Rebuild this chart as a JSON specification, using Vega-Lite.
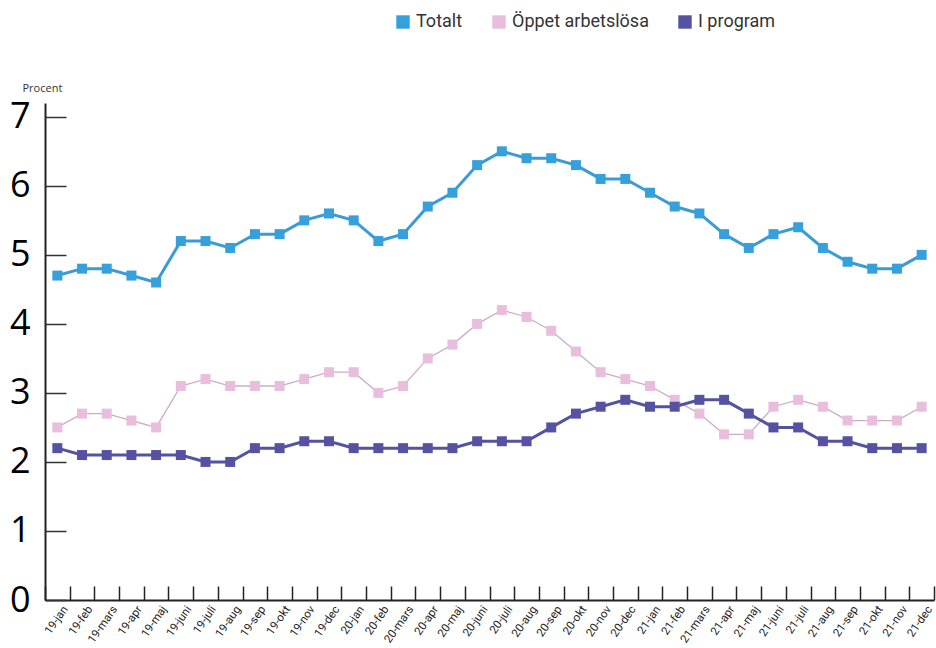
{
  "$schema": "https://vega.github.io/schema/vega-lite/v6.json",
  "width": 889,
  "height": 497,
  "autosize": {"type": "none"},
  "padding": {"left": 45, "top": 103, "right": 2, "bottom": 48},
  "config": {"view": {"stroke": null}, "font": "Open Sans"},
  "data": {"values": [
    {"m": "19-jan", "Totalt": 4.7, "Öppet arbetslösa": 2.5, "I program": 2.2},
    {"m": "19-feb", "Totalt": 4.8, "Öppet arbetslösa": 2.7, "I program": 2.1},
    {"m": "19-mars", "Totalt": 4.8, "Öppet arbetslösa": 2.7, "I program": 2.1},
    {"m": "19-apr", "Totalt": 4.7, "Öppet arbetslösa": 2.6, "I program": 2.1},
    {"m": "19-maj", "Totalt": 4.6, "Öppet arbetslösa": 2.5, "I program": 2.1},
    {"m": "19-juni", "Totalt": 5.2, "Öppet arbetslösa": 3.1, "I program": 2.1},
    {"m": "19-juli", "Totalt": 5.2, "Öppet arbetslösa": 3.2, "I program": 2.0},
    {"m": "19-aug", "Totalt": 5.1, "Öppet arbetslösa": 3.1, "I program": 2.0},
    {"m": "19-sep", "Totalt": 5.3, "Öppet arbetslösa": 3.1, "I program": 2.2},
    {"m": "19-okt", "Totalt": 5.3, "Öppet arbetslösa": 3.1, "I program": 2.2},
    {"m": "19-nov", "Totalt": 5.5, "Öppet arbetslösa": 3.2, "I program": 2.3},
    {"m": "19-dec", "Totalt": 5.6, "Öppet arbetslösa": 3.3, "I program": 2.3},
    {"m": "20-jan", "Totalt": 5.5, "Öppet arbetslösa": 3.3, "I program": 2.2},
    {"m": "20-feb", "Totalt": 5.2, "Öppet arbetslösa": 3.0, "I program": 2.2},
    {"m": "20-mars", "Totalt": 5.3, "Öppet arbetslösa": 3.1, "I program": 2.2},
    {"m": "20-apr", "Totalt": 5.7, "Öppet arbetslösa": 3.5, "I program": 2.2},
    {"m": "20-maj", "Totalt": 5.9, "Öppet arbetslösa": 3.7, "I program": 2.2},
    {"m": "20-juni", "Totalt": 6.3, "Öppet arbetslösa": 4.0, "I program": 2.3},
    {"m": "20-juli", "Totalt": 6.5, "Öppet arbetslösa": 4.2, "I program": 2.3},
    {"m": "20-aug", "Totalt": 6.4, "Öppet arbetslösa": 4.1, "I program": 2.3},
    {"m": "20-sep", "Totalt": 6.4, "Öppet arbetslösa": 3.9, "I program": 2.5},
    {"m": "20-okt", "Totalt": 6.3, "Öppet arbetslösa": 3.6, "I program": 2.7},
    {"m": "20-nov", "Totalt": 6.1, "Öppet arbetslösa": 3.3, "I program": 2.8},
    {"m": "20-dec", "Totalt": 6.1, "Öppet arbetslösa": 3.2, "I program": 2.9},
    {"m": "21-jan", "Totalt": 5.9, "Öppet arbetslösa": 3.1, "I program": 2.8},
    {"m": "21-feb", "Totalt": 5.7, "Öppet arbetslösa": 2.9, "I program": 2.8},
    {"m": "21-mars", "Totalt": 5.6, "Öppet arbetslösa": 2.7, "I program": 2.9},
    {"m": "21-apr", "Totalt": 5.3, "Öppet arbetslösa": 2.4, "I program": 2.9},
    {"m": "21-maj", "Totalt": 5.1, "Öppet arbetslösa": 2.4, "I program": 2.7},
    {"m": "21-juni", "Totalt": 5.3, "Öppet arbetslösa": 2.8, "I program": 2.5},
    {"m": "21-juli", "Totalt": 5.4, "Öppet arbetslösa": 2.9, "I program": 2.5},
    {"m": "21-aug", "Totalt": 5.1, "Öppet arbetslösa": 2.8, "I program": 2.3},
    {"m": "21-sep", "Totalt": 4.9, "Öppet arbetslösa": 2.6, "I program": 2.3},
    {"m": "21-okt", "Totalt": 4.8, "Öppet arbetslösa": 2.6, "I program": 2.2},
    {"m": "21-nov", "Totalt": 4.8, "Öppet arbetslösa": 2.6, "I program": 2.2},
    {"m": "21-dec", "Totalt": 5.0, "Öppet arbetslösa": 2.8, "I program": 2.2}
  ]},
  "transform": [{"fold": ["Totalt", "Öppet arbetslösa", "I program"], "as": ["serie", "v"]}],
  "encoding": {
    "x": {
      "field": "m", "type": "ordinal", "sort": null,
      "scale": {"type": "band", "paddingInner": 0, "paddingOuter": 0},
      "axis": {
        "title": null, "tickBand": "extent", "tickSize": -14, "tickColor": "#222", "tickWidth": 1.5,
        "domainColor": "#222", "domainWidth": 2, "labelAngle": -55, "labelAlign": "right",
        "labelBaseline": "middle", "labelFont": "Roboto", "labelFontSize": 11.5, "labelColor": "#222",
        "labelPadding": 21, "labelOffset": 8
      }
    },
    "y": {
      "field": "v", "type": "quantitative",
      "scale": {"domain": [0, 7.2], "nice": false},
      "axis": {
        "values": [0, 1, 2, 3, 4, 5, 6, 7], "grid": false, "tickSize": -21, "tickColor": "#333",
        "tickWidth": 1.5, "domainColor": "#222", "domainWidth": 2, "labelFontSize": 36,
        "labelColor": "#000", "labelPadding": 36,
        "title": "Procent", "titleAngle": 0, "titleAlign": "left", "titleBaseline": "middle",
        "titleX": -23, "titleY": -15, "titleFontSize": 11, "titleFontWeight": "normal", "titleColor": "#333"
      }
    }
  },
  "layer": [
    {
      "transform": [{"filter": {"field": "serie", "equal": "Totalt"}}],
      "mark": {"type": "line", "color": "#3a9bd6", "strokeWidth": 3}
    },
    {
      "transform": [{"filter": {"field": "serie", "equal": "Öppet arbetslösa"}}],
      "mark": {"type": "line", "color": "#cfaac6", "strokeWidth": 1.3}
    },
    {
      "transform": [{"filter": {"field": "serie", "equal": "I program"}}],
      "mark": {"type": "line", "color": "#5552a0", "strokeWidth": 3}
    },
    {
      "mark": {"type": "point", "shape": "square", "filled": true, "opacity": 1, "size": 100},
      "encoding": {
        "color": {"field": "serie", "type": "nominal", "sort": ["Totalt", "Öppet arbetslösa", "I program"],
          "scale": {"domain": ["Totalt", "Öppet arbetslösa", "I program"], "range": ["#35a0dc", "#e8bedc", "#5652a2"]},
          "legend": {
            "title": null, "orient": "none", "direction": "horizontal", "legendX": 349, "legendY": -90,
            "symbolType": "square", "symbolSize": 180, "labelFontSize": 18, "labelFont": "Roboto",
            "labelColor": "#333", "columnPadding": 27, "labelOffset": 4
          }
        }
      }
    }
  ]
}
